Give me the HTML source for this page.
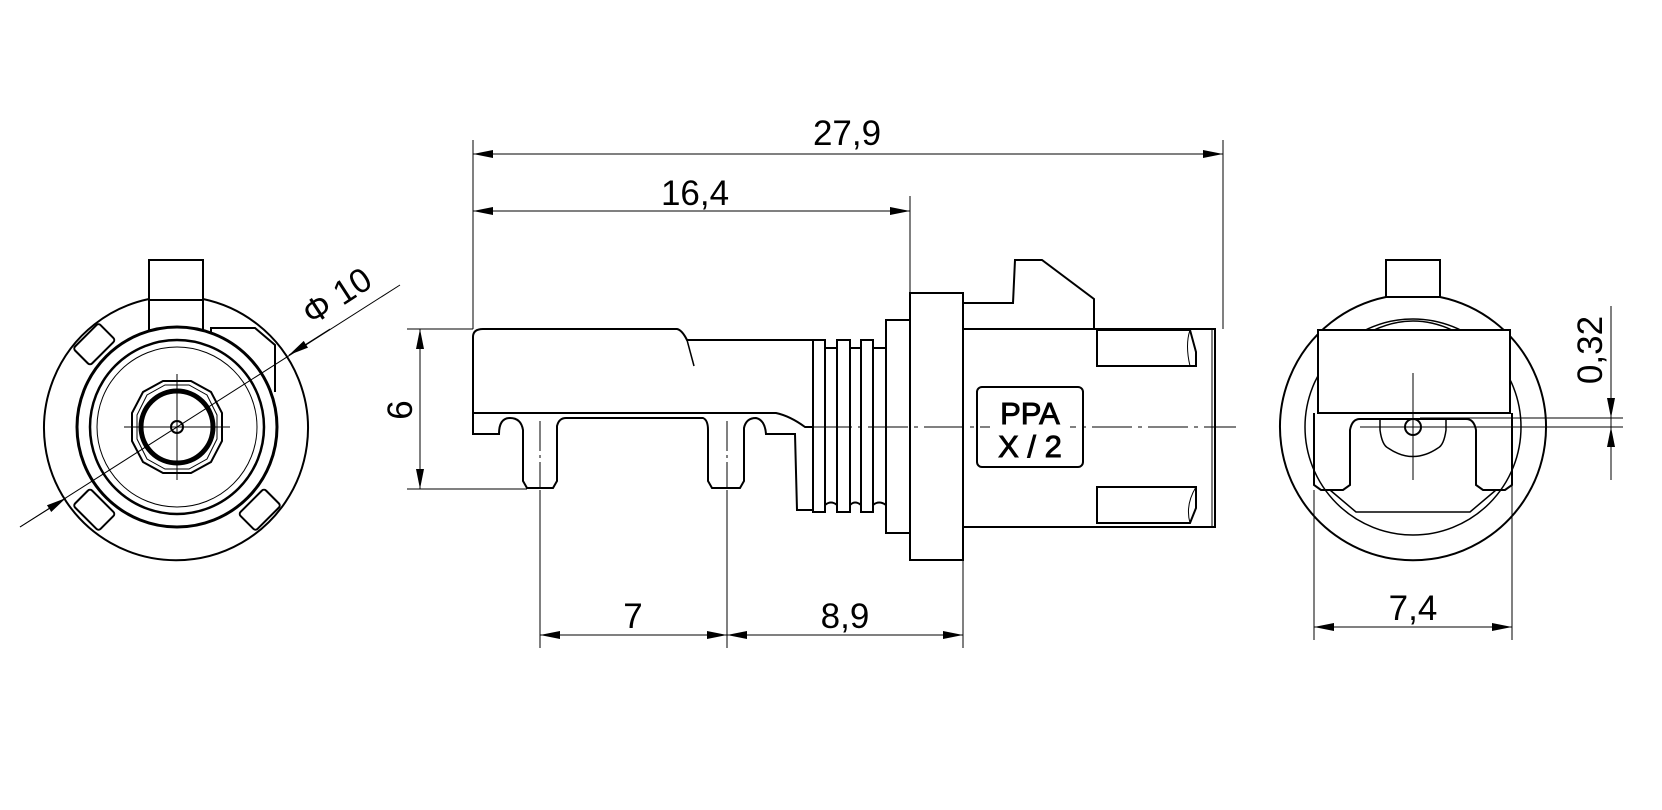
<!DOCTYPE html>
<html><head><meta charset="utf-8"><style>
html,body{margin:0;padding:0;background:#fff;}
svg{display:block;}
text{font-family:"Liberation Sans",sans-serif;fill:#000;}
</style></head><body>
<svg width="1662" height="810" viewBox="0 0 1662 810" xmlns="http://www.w3.org/2000/svg">
<defs>
<marker id="a" viewBox="0 0 20 10" refX="20" refY="5" markerWidth="20" markerHeight="10" markerUnits="userSpaceOnUse" orient="auto-start-reverse"><path d="M0,1 L20,5 L0,9 z" fill="#000"/></marker>
</defs>
<rect width="1662" height="810" fill="#fff"/>

<!-- ===== LEFT VIEW ===== -->
<g fill="none" stroke="#000" stroke-width="2">
  <path d="M149,299 A132,132 0 1 0 203,299"/>
  <rect x="149" y="260" width="54" height="70"/>
  <line x1="149" y1="300" x2="203" y2="300"/>
  <path d="M211,338 L211,328 L255,328 L275,345 L275,392"/>
  <g transform="rotate(-45 177 427)"><rect x="159" y="298" width="36" height="24" rx="3"/></g>
  <g transform="rotate(225 177 427)"><rect x="159" y="298" width="36" height="24" rx="3"/></g>
  <g transform="rotate(135 177 427)"><rect x="159" y="298" width="36" height="24" rx="3"/></g>
  <circle cx="177" cy="427" r="100" stroke-width="3" fill="#fff"/>
  <circle cx="177" cy="427" r="87" stroke-width="2.5"/>
  <circle cx="177" cy="427" r="80" stroke-width="1"/>
  <polygon points="163,381 191,381 211,392 222,413 222,441 211,462 191,473 163,473 143,462 132,441 132,413 143,392"/>
  <polygon points="165,385 189,385 207,395 217,415 217,439 207,459 189,469 165,469 147,459 137,439 137,415 147,395" stroke-width="1"/>
  <circle cx="177" cy="427" r="36" stroke-width="5"/>
  <circle cx="177" cy="427" r="6"/>
</g>
<g stroke="#000" stroke-width="1">
  <line x1="124" y1="427" x2="230" y2="427"/>
  <line x1="177" y1="374" x2="177" y2="480"/>
  <line x1="20" y1="527" x2="400" y2="285"/>
  <line x1="20" y1="527" x2="66" y2="498" marker-end="url(#a)"/>
  <line x1="330" y1="329" x2="289" y2="355" marker-end="url(#a)"/>
</g>
<text x="0" y="0" font-size="34" transform="translate(312,326) rotate(-33)">Φ 10</text>

<!-- ===== MIDDLE VIEW ===== -->
<g fill="none" stroke="#000" stroke-width="2">
  <path d="M473,413 L473,337 Q473,329 483,329 L677,329 Q682,330 687,340 L812,340"/>
  <path d="M687,340 L694,366" stroke-width="1.5"/>
  <path d="M473,413 L776,413 Q790,416 805,427 L812,427"/>
  <path d="M473,413 L473,434 L499,434 Q499,418 510,418 Q521,418 523,430 L523,481 L527,488 L553,488 L557,481 L557,426 Q559,418 566,418 L703,418 Q708,420 708,430 L708,481 L712,488 L740,488 L744,481 L744,428 Q746,418 756,418 Q765,420 766,434 L795,434 L797,510 L812,510"/>
  <rect x="813" y="340" width="12" height="172"/>
  <rect x="837" y="340" width="13" height="172"/>
  <rect x="861" y="340" width="12" height="172"/>
  <path d="M825,348 L837,348 M850,348 L861,348 M873,348 L886,348"/>
  <path d="M825,505 Q831,500 837,505 M850,505 Q855,500 861,505 M873,505 Q879,500 886,505"/>
  <rect x="886" y="320" width="24" height="213"/>
  <rect x="910" y="293" width="53" height="267"/>
  <path d="M963,303 L1013,303 L1015,260 L1042,260 L1094,299 L1094,329"/>
  <path d="M963,329 L1215,329 L1215,527 L963,527"/>
  <line x1="1212" y1="329" x2="1212" y2="527" stroke-width="1"/>
  <path d="M1097,330 L1190,330 L1196,352 L1196,366 L1097,366 Z"/>
  <path d="M1190,330 Q1185,345 1190,366" stroke-width="1"/>
  <path d="M1097,487 L1196,487 L1196,508 L1190,523 L1097,523 Z"/>
  <path d="M1196,487 Q1185,505 1190,523" stroke-width="1"/>
  <rect x="977" y="387" width="106" height="80" rx="5"/>
</g>
<g stroke="#000" stroke-width="1">
  <line x1="540" y1="421" x2="540" y2="488" stroke-dasharray="30,4,3,4"/>
  <line x1="727" y1="421" x2="727" y2="488" stroke-dasharray="30,4,3,4"/>
  <line x1="812" y1="427" x2="1236" y2="427" stroke-dasharray="40,6,4,6"/>
</g>
<rect x="990" y="396" width="80" height="62" fill="#fff"/>
<text x="1030" y="424" font-size="31" text-anchor="middle" fill="#fff" stroke="#000" stroke-width="0.9">PPA</text>
<text x="1030" y="457" font-size="31" text-anchor="middle" fill="#fff" stroke="#000" stroke-width="0.9">X / 2</text>
<g stroke="#000" stroke-width="1" fill="none">
  <line x1="473" y1="140" x2="473" y2="329"/>
  <line x1="1223" y1="140" x2="1223" y2="329"/>
  <line x1="910" y1="196" x2="910" y2="293"/>
  <line x1="473" y1="154" x2="1223" y2="154" marker-start="url(#a)" marker-end="url(#a)"/>
  <line x1="473" y1="211" x2="910" y2="211" marker-start="url(#a)" marker-end="url(#a)"/>
  <line x1="407" y1="329" x2="473" y2="329"/>
  <line x1="407" y1="489" x2="527" y2="489"/>
  <line x1="420" y1="329" x2="420" y2="489" marker-start="url(#a)" marker-end="url(#a)"/>
  <line x1="540" y1="490" x2="540" y2="648"/>
  <line x1="727" y1="490" x2="727" y2="648"/>
  <line x1="963" y1="560" x2="963" y2="648"/>
  <line x1="540" y1="635" x2="727" y2="635" marker-start="url(#a)" marker-end="url(#a)"/>
  <line x1="727" y1="635" x2="963" y2="635" marker-start="url(#a)" marker-end="url(#a)"/>
</g>
<text x="847" y="145" font-size="35" text-anchor="middle">27,9</text>
<text x="695" y="205" font-size="35" text-anchor="middle">16,4</text>
<text x="633" y="628" font-size="35" text-anchor="middle">7</text>
<text x="845" y="628" font-size="35" text-anchor="middle">8,9</text>
<text x="0" y="0" font-size="35" text-anchor="middle" transform="translate(412,410) rotate(-90)">6</text>

<!-- ===== RIGHT VIEW ===== -->
<g fill="none" stroke="#000" stroke-width="2">
  <path d="M1386,297 A133,133 0 1 0 1440,297"/>
  <rect x="1386" y="260" width="54" height="37"/>
  <path d="M1374,330 Q1413,312 1452,330" stroke-width="1.5"/>
  <circle cx="1413" cy="427" r="108" stroke-width="1.5"/>
  <path d="M1314,413 L1314,485 L1321,490 L1343,490 L1350,485 L1350,430 Q1352,419 1360,419 L1466,419 Q1474,419 1476,430 L1476,485 L1483,490 L1505,490 L1512,485 L1512,413"/>
  <path d="M1380,419 L1380,430 Q1382,445 1388,448 Q1413,465 1438,448 Q1444,445 1446,430 L1446,419" stroke-width="1.5"/>
  <circle cx="1413" cy="427" r="8"/>
  <path d="M1330,490 L1356,512 L1470,512 L1496,490" stroke-width="1.5"/>
</g>
<rect x="1319" y="331" width="190" height="81" fill="#fff"/>
<path d="M1318,330 L1510,330 L1510,413 L1318,413 Z" fill="none" stroke="#000" stroke-width="2"/>
<g stroke="#000" stroke-width="1" fill="none">
  <line x1="1413" y1="373" x2="1413" y2="480"/>
  <line x1="1360" y1="427" x2="1623" y2="427"/>
  <line x1="1420" y1="418" x2="1623" y2="418"/>
  <line x1="1611" y1="306" x2="1611" y2="480"/>
  <line x1="1611" y1="395" x2="1611" y2="418" marker-end="url(#a)"/>
  <line x1="1611" y1="452" x2="1611" y2="427" marker-end="url(#a)"/>
  <line x1="1314" y1="490" x2="1314" y2="640"/>
  <line x1="1512" y1="413" x2="1512" y2="640"/>
  <line x1="1314" y1="627" x2="1512" y2="627" marker-start="url(#a)" marker-end="url(#a)"/>
</g>
<text x="1413" y="620" font-size="35" text-anchor="middle">7,4</text>
<text x="0" y="0" font-size="35" text-anchor="middle" transform="translate(1602,350) rotate(-90)">0,32</text>
</svg>
</body></html>
